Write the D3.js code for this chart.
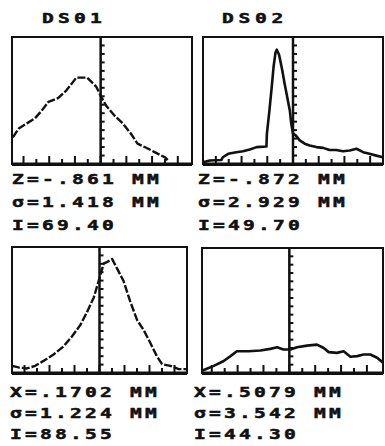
<!DOCTYPE html>
<html>
<head>
<meta charset="utf-8">
<script src="https://cdn.jsdelivr.net/npm/d3@7"></script>
<style>
	body { margin: 0; background: #fff; }
	svg { display: block; }
	.lbl { font-family: "DejaVu Sans Mono", monospace; font-weight: bold; fill: #111; stroke: #111; stroke-width: 0.5; }
</style>
</head>
<body>
<svg id="chart" width="385" height="446"></svg>
<script>
// profiles: [channel 0..40, height 0..100]
var ds01Profile = [[0.2,21],[1.5,28],[3.3,32],[5.1,36],[6.6,42],[8.1,49],[10.3,52],[12.1,58],[14.3,68],[16.7,68],
	[18.7,61],[19.8,53],[20.9,46],[22.8,38],[24.6,32],[26.4,24],[27.9,16],[29.7,13],[31.9,9],[34.1,5],[34.6,3]];
var ds02Profile = [[0,1.3],[1.5,2.7],[4.1,3.2],[4.4,5.3],[5.6,8],[7.4,9.3],[8.9,10],[10.4,11.4],[11.9,13.3],[14.1,13.8],
	[14.2,24],[14.7,40],[15.2,58],[15.7,77],[16.1,87.5],[16.4,90],[16.9,86],[17.2,81],[17.6,74],[18.1,64],[18.7,53],
	[19.3,42],[19.6,32],[20,24],[20.6,22.5],[21.5,18.6],[22.6,16],[23.7,14.6],[25.2,13.3],[26.7,12.7],[28.1,11],
	[29.6,11],[31.1,10],[32.6,10.6],[34.1,12],[35.6,9.3],[37,8],[38.5,6.6],[40,5.3]];
var xProfile1 = [[0,5.7],[1.5,4.4],[3.4,3.6],[5.3,5.7],[7.2,9.6],[9.5,14.7],[11.8,21.2],[13.7,29],[15.6,38],[17.1,48],
	[18.7,60],[19.8,73],[20.2,78],[21,87],[21.7,88],[22.9,90.4],[24,83],[25.5,73],[27,57],[28.6,42],[30.1,34],
	[31.6,24],[33.1,13.4],[34.3,7],[36.2,5.7],[38.1,3.1],[40,3.1]];
var xProfile2 = [[0,1.8],[2.6,5.7],[4.8,9.6],[6.3,13.5],[7.7,17.4],[10.3,17.4],[12.9,18],[15.1,19.3],[16.6,20.6],
	[18,18.8],[19.5,18.8],[21,20.6],[23.2,21.9],[25.4,22.7],[26.9,20],[28,16.7],[29.8,16.1],[31.3,17.4],[32.8,13],
	[34.3,13.5],[35.7,14.8],[37.2,14.8],[38.7,12.2],[40,8.3]];

var titles = ["DS01", "DS02"];
var statsTL = ["Z=-.861  MM", "\u03c3=1.418  MM", "I=69.40"];
var statsTR = ["Z=-.872  MM", "\u03c3=2.929  MM", "I=49.70"];
var statsBL = ["X=.1702  MM", "\u03c3=1.224  MM", "I=88.55"];
var statsBR = ["X=.5079  MM", "\u03c3=3.542  MM", "I=44.30"];

var svg = d3.select('#chart');

var panels = [
	{ profile: ds01Profile, stats: statsTL, box: [12, 37, 192, 164], center: 19.7, dashed: true, statX: 12, statY: [184, 207, 230] },
	{ profile: ds02Profile, stats: statsTR, box: [203, 37, 383, 164], center: 20, dashed: false, statX: 198, statY: [184, 207, 230] },
	{ profile: xProfile1, stats: statsBL, box: [12, 247, 187, 373], center: 20, dashed: true, statX: 10, statY: [397, 418, 439] },
	{ profile: xProfile2, stats: statsBR, box: [202, 248, 383, 373], center: 19.3, dashed: false, statX: 194, statY: [397, 418, 439] }
];

// blocky printer text: fixed pitch, stretched glyphs
var printText = function(str, x0, y0, pitch, sx) {
	var g = svg.append('g').attr('transform', 'translate(' + x0 + ',' + y0 + ') scale(' + sx + ',1)');
	var chars = str.split('');
	g.append('text')
		.attr('class', 'lbl')
		.attr('x', chars.map(function(c, i) { return (i * pitch / sx).toFixed(2); }).join(' '))
		.attr('y', 0)
		.style('font-size', '14px')
		.text(str);
};

printText(titles[0], 42, 23, 16, 1.4);
printText(titles[1], 222, 23, 16.5, 1.4);

panels.forEach(function(p) {
	var x0 = p.box[0], y0 = p.box[1], x1 = p.box[2], y1 = p.box[3];
	var xs = d3.scaleLinear().domain([0, 40]).range([x0, x1]);
	var ys = d3.scaleLinear().domain([0, 100]).range([y1, y0]);
	var cx = xs(p.center);

	svg.append('rect')
		.attr('x', x0).attr('y', y0)
		.attr('width', x1 - x0).attr('height', y1 - y0)
		.attr('fill', 'none').attr('stroke', '#111').attr('stroke-width', 2);

	// thicker base line
	svg.append('rect')
		.attr('x', x0).attr('y', y1 - 1.5)
		.attr('width', x1 - x0).attr('height', 3.5)
		.attr('fill', '#111');

	// centre marker
	svg.append('rect')
		.attr('x', cx - 1.25).attr('y', y0)
		.attr('width', 2.5).attr('height', y1 - y0)
		.attr('fill', '#111');

	// base ticks, every 40/14 channels out from the centre, as small filled bars
	var step = 40 / 14;
	var baseTicks = [];
	for (var k = -14; k <= 14; k++) {
		var v = p.center + k * step;
		if (v > 0.8 && v < 39.2) baseTicks.push({ v: v, h: Math.abs(k) % 2 === 0 ? 8 : 5 });
	}
	svg.append('g').selectAll('rect')
		.data(baseTicks)
		.enter()
			.append('rect')
				.attr('x', function(d) { return xs(d.v) - 1; })
				.attr('y', function(d) { return y1 - d.h; })
				.attr('width', 2)
				.attr('height', function(d) { return d.h; })
				.attr('fill', '#111');

	// ticks up the centre marker
	svg.append('g').selectAll('rect')
		.data(d3.range(100 / 15, 95, 100 / 15))
		.enter()
			.append('rect')
				.attr('x', cx)
				.attr('y', function(d) { return ys(d) - 1; })
				.attr('width', 4)
				.attr('height', 2)
				.attr('fill', '#111');

	var line = d3.line()
		.x(function(q) { return xs(q[0]); })
		.y(function(q) { return ys(q[1]); });

	svg.append('path')
		.datum(p.profile)
		.attr('d', line)
		.attr('fill', 'none')
		.attr('stroke', '#111')
		.attr('stroke-width', p.dashed ? 2.4 : 2.6)
		.attr('stroke-linejoin', 'round')
		.attr('stroke-dasharray', p.dashed ? '8,2' : null);

	p.stats.forEach(function(s, i) {
		printText(s, p.statX, p.statY[i], 15, 1.4);
	});
});
</script>
</body>
</html>
